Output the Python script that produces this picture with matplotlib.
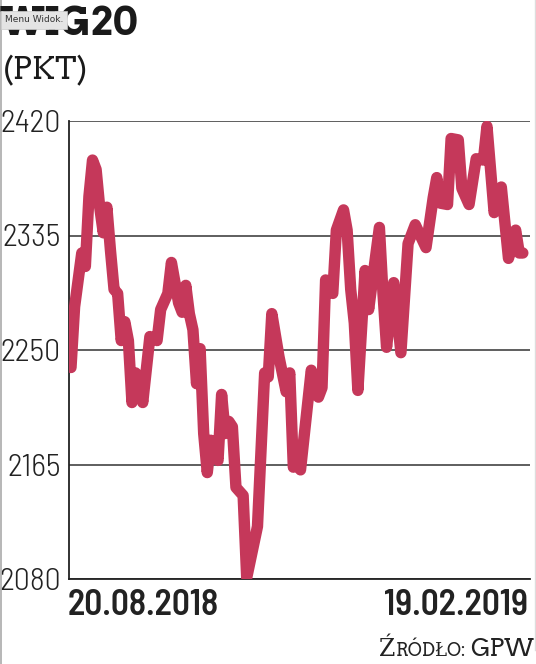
import matplotlib
matplotlib.use("Agg")
import matplotlib.pyplot as plt
from matplotlib.lines import Line2D

# WIG20 closing levels (trading-day index, points)
days = [0, 1, 3, 4, 5, 6, 7, 8, 9, 10, 11, 12, 13, 14, 15, 16, 17, 18, 19, 20,
        22, 24, 25, 27, 28, 30, 31, 32, 33, 34, 35, 36, 37, 38, 39, 41, 42, 43, 44, 45,
        46, 48, 49, 52, 54, 55, 56, 58, 60, 61, 62, 63, 64, 67, 69, 70, 71, 73, 74, 76,
        77, 78, 79, 80, 82, 83, 86, 87, 88, 90, 92, 94, 96, 99, 101, 102, 103, 105, 106, 108,
        109, 111, 113, 115, 116, 118, 120, 122, 124, 125, 126]
wig20 = [2237, 2282, 2322, 2312, 2364, 2391, 2384, 2356, 2337, 2356, 2324, 2295, 2292, 2257, 2271, 2257, 2211, 2233, 2230, 2211,
         2260, 2257, 2280, 2292, 2315, 2285, 2278, 2298, 2277, 2265, 2225, 2251, 2188, 2159, 2183, 2168, 2217, 2188, 2197, 2193,
         2148, 2142, 2081, 2119, 2233, 2230, 2277, 2245, 2219, 2233, 2163, 2172, 2161, 2235, 2215, 2222, 2302, 2292, 2339, 2354,
         2339, 2295, 2270, 2220, 2309, 2280, 2341, 2292, 2252, 2300, 2248, 2329, 2343, 2326, 2363, 2378, 2359, 2358, 2407, 2406,
         2370, 2358, 2392, 2391, 2416, 2352, 2371, 2318, 2339, 2322, 2322]

yticks = [2080, 2165, 2250, 2335, 2420]
date_labels = ["20.08.2018", "19.02.2019"]

W, H = 536, 664
red = "#c5385a"
dark = "#222222"
sans = ["Barlow Semi Condensed", "DejaVu Sans"]
slab = ["Arvo", "DejaVu Serif"]

def fx(px):
    return px / W

def fy(py):
    # py measured from top of image
    return 1 - py / H

fig = plt.figure(figsize=(W / 100, H / 100), dpi=100)
fig.patch.set_facecolor("white")

ax = fig.add_axes([fx(69), fy(579), fx(530 - 69), (579 - 121) / H])
ax.plot(days, wig20, color=red, lw=8.2, solid_joinstyle="round",
        solid_capstyle="round", zorder=3)

ax.set_ylim(2080, 2420)
ax.set_xlim(-0.56, 128.0)
ax.set_yticks(yticks)
ax.set_yticklabels([str(v) for v in yticks])
ax.set_xticks([])
ax.tick_params(axis="y", length=0, pad=6, labelsize=23, colors=dark)
for lab in ax.get_yticklabels():
    lab.set_family(sans)
    lab.set_fontweight(300)

ax.grid(axis="y", color="#333333", lw=1.1, zorder=1)
for s in ["top", "right"]:
    ax.spines[s].set_visible(False)
for s in ["left", "bottom"]:
    ax.spines[s].set_color("#222222")
    ax.spines[s].set_linewidth(1.3)

# dates under the axis
fig.text(fx(68), fy(615), date_labels[0], ha="left", va="baseline",
         fontsize=25.5, fontweight=600, color=dark, family=sans)
fig.text(fx(528), fy(615), date_labels[1], ha="right", va="baseline",
         fontsize=25.5, fontweight=600, color=dark, family=sans)

# title block
fig.text(fx(0), fy(35), "WIG20", ha="left", va="baseline", fontsize=28,
         fontweight="bold", family=slab, color="#1a1a1a")
fig.text(fx(3), fy(79), "(PKT)", ha="left", va="baseline", fontsize=22,
         family=slab, color="#1a1a1a")

# source line in small caps, built from three pieces
base = H - 656
t3 = fig.text(fx(534), base / H, "GPW", ha="right", va="baseline",
              fontsize=17, family=slab, color=dark)
t2 = ax.annotate("RÓDŁO: ", xy=(0, base), xycoords=(t3, "figure pixels"),
                 ha="right", va="baseline", fontsize=13,
                 family=slab, color=dark, annotation_clip=False)
ax.annotate("Ź", xy=(0, base), xycoords=(t2, "figure pixels"),
            ha="right", va="baseline", fontsize=17,
            family=slab, color=dark, annotation_clip=False)

# screenshot tooltip and borders
fig.text(fx(5), fy(20), "Menu Widok.", ha="left", va="center", fontsize=6.5,
         color="#333333", family="DejaVu Sans",
         bbox=dict(boxstyle="square,pad=0.45", fc="#e4e4e4", ec="#cccccc", lw=0.5))
fig.add_artist(Line2D([fx(1), fx(1)], [0, 1], color="#aaaaaa", lw=1.2))
fig.add_artist(Line2D([fx(534.5), fx(534.5)], [fy(650), 1], color="#dddddd", lw=1))

fig.savefig("out.png", dpi=100, facecolor="white")
